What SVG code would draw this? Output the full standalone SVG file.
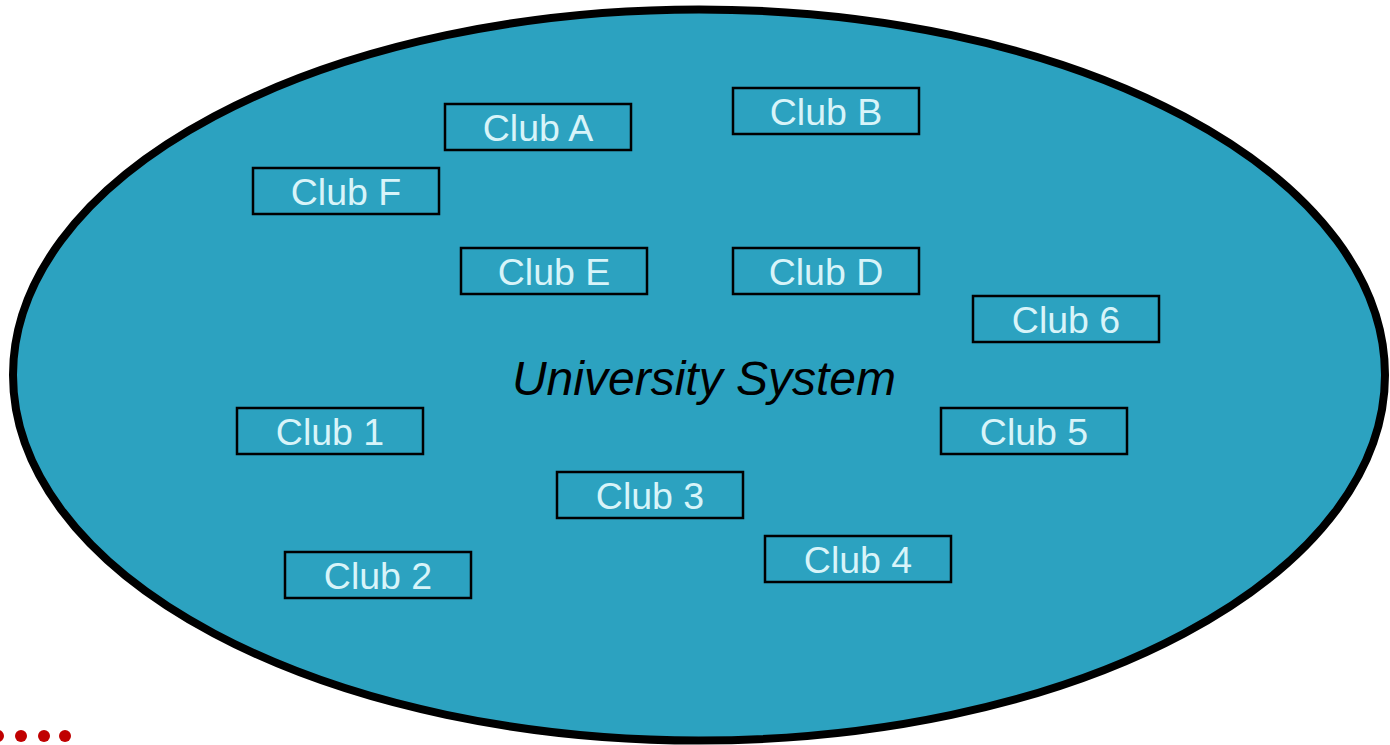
<svg xmlns="http://www.w3.org/2000/svg" width="1390" height="745" viewBox="0 0 1390 745">
<style>
.club rect{fill:none;stroke:#000;stroke-width:2.5}
.club text{font-family:"Liberation Sans",Arial,sans-serif;font-size:37.5px;fill:#D8F4F9;text-anchor:middle}
.title{font-family:"Liberation Sans",Arial,sans-serif;font-size:48px;font-style:italic;fill:#000;text-anchor:middle}
.dot{fill:#C00000}
</style>
<rect width="1390" height="745" fill="#fff"/>
<g id="system">
<ellipse cx="699" cy="375" rx="686" ry="365.5" fill="#2CA2C0" stroke="#000" stroke-width="8"/>
<text class="title" x="704" y="395">University System</text>
</g>
<g id="clubA" class="club"><rect x="445" y="104" width="186" height="46"/><text x="538" y="141">Club A</text></g>
<g id="clubB" class="club"><rect x="733" y="88" width="186" height="46"/><text x="826" y="125">Club B</text></g>
<g id="clubF" class="club"><rect x="253" y="168" width="186" height="46"/><text x="346" y="205">Club F</text></g>
<g id="clubE" class="club"><rect x="461" y="248" width="186" height="46"/><text x="554" y="285">Club E</text></g>
<g id="clubD" class="club"><rect x="733" y="248" width="186" height="46"/><text x="826" y="285">Club D</text></g>
<g id="club6" class="club"><rect x="973" y="296" width="186" height="46"/><text x="1066" y="333">Club 6</text></g>
<g id="club1" class="club"><rect x="237" y="408" width="186" height="46"/><text x="330" y="445">Club 1</text></g>
<g id="club5" class="club"><rect x="941" y="408" width="186" height="46"/><text x="1034" y="445">Club 5</text></g>
<g id="club3" class="club"><rect x="557" y="472" width="186" height="46"/><text x="650" y="509">Club 3</text></g>
<g id="club2" class="club"><rect x="285" y="552" width="186" height="46"/><text x="378" y="589">Club 2</text></g>
<g id="club4" class="club"><rect x="765" y="536" width="186" height="46"/><text x="858" y="573">Club 4</text></g>
<g id="connectors"></g>
<g id="dots">
<circle class="dot" cx="-2" cy="736" r="6"/>
<circle class="dot" cx="21" cy="736" r="6"/>
<circle class="dot" cx="44" cy="736" r="6"/>
<circle class="dot" cx="65" cy="736" r="6"/>
</g>
</svg>
